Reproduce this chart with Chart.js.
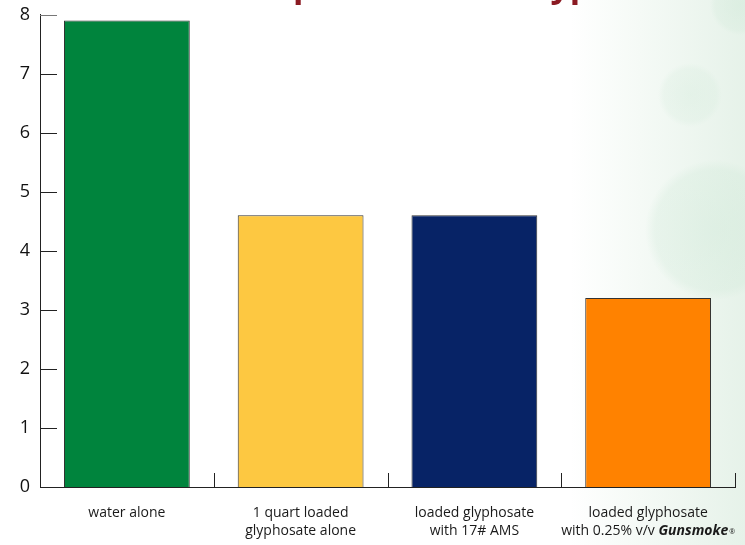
<!DOCTYPE html>
<html>
<head>
<meta charset="utf-8">
<script src="https://cdn.jsdelivr.net/npm/chart.js@4/dist/chart.umd.min.js"></script>
<style>
  html, body { margin: 0; padding: 0; width: 745px; height: 545px; overflow: hidden; }
  body {
    background:
      radial-gradient(circle at 715px 230px, rgba(200,230,210,0.35) 0, rgba(200,230,210,0.25) 60px, rgba(200,230,210,0) 70px),
      radial-gradient(circle at 690px 95px, rgba(205,232,214,0.3) 0, rgba(205,232,214,0.2) 26px, rgba(205,232,214,0) 32px),
      radial-gradient(circle at 740px 5px, rgba(200,230,210,0.35) 0, rgba(200,230,210,0.2) 25px, rgba(200,230,210,0) 30px),
      linear-gradient(to right, #ffffff 0px, #ffffff 570px, #f5faf6 640px, #e6f2e9 745px);
  }
  #wrap { position: absolute; left: 0; top: 0; width: 745px; height: 545px; }
</style>
</head>
<body>
<div id="wrap"><canvas id="c" width="745" height="545"></canvas></div>
<script>
// ---- data ----
const categories = [
  ["water alone"],
  ["1 quart loaded", "glyphosate alone"],
  ["loaded glyphosate", "with 17# AMS"],
  ["loaded glyphosate", "with 0.25% v/v ", "Gunsmoke", "®"]
];
const values = [7.9, 4.6, 4.6, 3.2];
const barColors = ["#00843D", "#FDC841", "#072366", "#FF8200"];
const yTicks = [0, 1, 2, 3, 4, 5, 6, 7, 8];
const titleText = "Water Hardness Comparison with Glyphosate";

const FONT = "'Open Sans', 'Noto Sans', sans-serif";

const decorPlugin = {
  id: 'decor',
  beforeDraw(chart) {
    const ctx = chart.ctx;
    ctx.save();
    ctx.font = "bold 34px " + FONT;
    ctx.fillStyle = "#8B1A22";
    ctx.textBaseline = "alphabetic";
    ctx.textAlign = "left";
    const pre = ctx.measureText("Water Hardness Com").width;
    const x0 = 293 - pre;
    ctx.fillText(titleText, x0, -3);
    ctx.restore();
  },
  afterDraw(chart) {
    const ctx = chart.ctx;
    const xs = chart.scales.x, ys = chart.scales.y;
    const area = chart.chartArea;
    ctx.save();
    // inward y ticks
    ys.ticks.forEach((t) => {
      const y = Math.round(ys.getPixelForValue(t.value)) + 0.5;
      ctx.strokeStyle = t.value === 8 ? "#777777" : "#222222";
      ctx.lineWidth = 1;
      ctx.beginPath();
      ctx.moveTo(area.left, y);
      ctx.lineTo(area.left + 17, y);
      ctx.stroke();
    });
    // upward x ticks at category boundaries
    const n = categories.length;
    const half = (xs.getPixelForValue(1) - xs.getPixelForValue(0)) / 2;
    for (let i = 0; i < n; i++) {
      const x = Math.round(xs.getPixelForValue(i) + half) + 0.5;
      ctx.strokeStyle = "#222222";
      ctx.lineWidth = 1;
      ctx.beginPath();
      ctx.moveTo(x, area.bottom);
      ctx.lineTo(x, area.bottom - 14);
      ctx.stroke();
    }
    // category labels
    ctx.fillStyle = "#1a1a1a";
    ctx.textBaseline = "middle";
    const fs = 14;
    categories.forEach((lab, i) => {
      const cx = xs.getPixelForValue(i);
      ctx.font = fs + "px " + FONT;
      ctx.textAlign = "center";
      ctx.fillText(lab[0], cx, area.bottom + 26);
      if (lab.length === 2) {
        ctx.fillText(lab[1], cx, area.bottom + 44);
      } else if (lab.length === 4) {
        ctx.font = fs + "px " + FONT;
        const w1 = ctx.measureText(lab[1]).width;
        ctx.font = "italic bold " + fs + "px " + FONT;
        const w2 = ctx.measureText(lab[2]).width;
        ctx.font = "7px " + FONT;
        const w3 = ctx.measureText(lab[3]).width;
        let x = cx - (w1 + w2 + w3 + 1) / 2;
        const y = area.bottom + 44;
        ctx.textAlign = "left";
        ctx.font = fs + "px " + FONT;
        ctx.fillText(lab[1], x, y); x += w1;
        ctx.font = "italic bold " + fs + "px " + FONT;
        ctx.fillText(lab[2], x, y); x += w2 + 1;
        ctx.font = "7px " + FONT;
        ctx.fillText(lab[3], x, y + 1);
      }
    });
    ctx.restore();
  }
};

new Chart(document.getElementById('c'), {
  type: 'bar',
  data: {
    labels: categories.map(c => c.join(' ')),
    datasets: [{
      data: values,
      backgroundColor: barColors,
      borderColor: "#333333",
      borderWidth: 1,
      borderSkipped: 'start',
      categoryPercentage: 1.0,
      barPercentage: 0.724
    }]
  },
  options: {
    responsive: false,
    animation: false,
    devicePixelRatio: 1,
    layout: { padding: { top: 14.5, right: 10, left: 0, bottom: 0 } },
    plugins: { legend: { display: false }, tooltip: { enabled: false }, title: { display: false } },
    scales: {
      x: {
        type: 'category',
        offset: true,
        grid: { display: false, drawTicks: false },
        border: { display: true, color: "#222222", width: 1 },
        ticks: { display: false },
        afterFit(s) { s.height = 58; s.paddingLeft = 0; s.paddingRight = 0; }
      },
      y: {
        min: 0, max: 8,
        afterBuildTicks(s) { s.ticks = yTicks.map(v => ({ value: v })); },
        grid: { display: false, drawTicks: false },
        border: { display: true, color: "#222222", width: 1 },
        ticks: {
          padding: 10,
          color: "#111111",
          font: { family: FONT, size: 18 }
        },
        afterFit(s) { s.width = 40; s.paddingTop = 0; s.paddingBottom = 0; }
      }
    }
  },
  plugins: [decorPlugin]
});
</script>
</body>
</html>
